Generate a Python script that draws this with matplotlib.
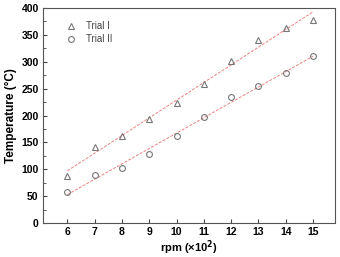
import numpy as np
import matplotlib
matplotlib.use('Agg')
import matplotlib.pyplot as plt
from matplotlib.ticker import MultipleLocator

plt.rcParams['font.family'] = ['Liberation Sans', 'DejaVu Sans']
plt.rcParams['mathtext.default'] = 'bf'

# data
rpm = np.array([6, 7, 8, 9, 10, 11, 12, 13, 14, 15])
trial1 = np.array([87, 141, 162, 194, 224, 259, 302, 341, 362, 378])
trial2 = np.array([57, 90, 103, 128, 162, 197, 235, 255, 279, 310])

fig = plt.figure(figsize=(3.4, 2.57), dpi=100)
ax = fig.add_axes([0.126, 0.132, 0.859, 0.837])

# linear fits
for y in (trial1, trial2):
    k, b = np.polyfit(rpm, y, 1)
    xs = np.array([rpm[0], rpm[-1]])
    ax.plot(xs, k*xs + b, color='#f08080', lw=0.7, ls=(0, (3, 1.5)), zorder=1)

ax.plot(rpm, trial1, ls='none', marker='^', ms=4.5, mfc='none', mec='#777777',
        mew=0.8, label='Trial I', zorder=2)
ax.plot(rpm, trial2, ls='none', marker='o', ms=4.2, mfc='none', mec='#777777',
        mew=0.8, label='Trial II', zorder=2)

ax.set_xlim(5.1, 15.8)
ax.set_ylim(0, 400)
ax.xaxis.set_major_locator(MultipleLocator(1))
ax.yaxis.set_major_locator(MultipleLocator(50))
ax.yaxis.set_minor_locator(MultipleLocator(25))
ax.tick_params(direction='in', length=3, width=0.8, color='#444444',
               labelsize=7.5, pad=3)
ax.tick_params(which='minor', direction='in', length=2, width=0.6, color='#444444')
ax.tick_params(top=False, right=False)
for lab in ax.get_xticklabels() + ax.get_yticklabels():
    lab.set_fontweight('bold')
for s in ax.spines.values():
    s.set_color('#555555')
    s.set_linewidth(0.8)

ax.set_xlabel('rpm (\u00d710$^{2}$)', fontsize=8, fontweight='bold', labelpad=1)
ax.set_ylabel('Temperature (\u00b0C)', fontsize=8.5, fontweight='bold', labelpad=3)

leg = ax.legend(loc='upper left', bbox_to_anchor=(0.04, 0.98), frameon=False,
                fontsize=7, handletextpad=0.8, labelspacing=0.3, handlelength=1.5)
for t in leg.get_texts():
    t.set_color('#444444')

fig.savefig('out.png', dpi=100)
